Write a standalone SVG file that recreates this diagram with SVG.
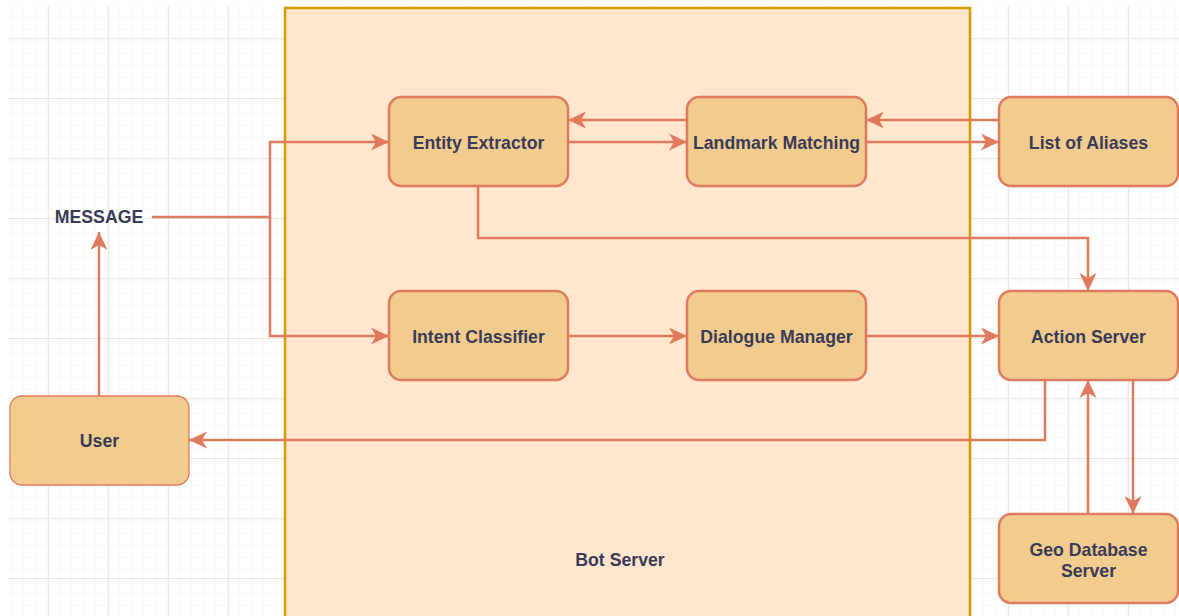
<svg xmlns="http://www.w3.org/2000/svg" width="1179" height="616" viewBox="0 0 1179 616">
<style>
.node rect{fill:#F2CC8F;stroke:#E07A5F;stroke-width:2.5}
.lbl{font-family:"Liberation Sans",Arial,sans-serif;font-weight:bold;font-size:17.7px;fill:#393C56;text-anchor:middle}
.conn path{fill:none;stroke:#E07A5F;stroke-width:2.5;marker-end:url(#arr)}
</style>
<defs>
<pattern id="minor" x="0" y="6" width="12" height="12" patternUnits="userSpaceOnUse">
<path d="M12,0 V12 M0,12 H12" fill="none" stroke="#F3F3EF" stroke-width="1"/>
</pattern>
<pattern id="major" x="-12" y="-22" width="60" height="60" patternUnits="userSpaceOnUse">
<path d="M0.5,0 V60 M0,0.5 H60" fill="none" stroke="#EAEAE2" stroke-width="1.5"/>
</pattern>
<marker id="arr" markerUnits="userSpaceOnUse" markerWidth="20" markerHeight="20" refX="18" refY="10" orient="auto">
<path d="M0,1.5 L18,10 L0,18.5 L5,10 z" fill="#E07A5F"/>
</marker>
</defs>
<rect width="1179" height="616" fill="#ffffff"/>
<rect x="8" y="6" width="1171" height="610" fill="url(#minor)"/>
<rect x="8" y="6" width="1171" height="610" fill="url(#major)"/>
<g id="bot-server">
<rect x="285" y="8" width="685" height="620" fill="#FFE6CC" stroke="#D79B00" stroke-width="2.5"/>
<text class="lbl" x="620" y="566">Bot Server</text>
</g>
<g id="message"><text class="lbl" x="99" y="223">MESSAGE</text></g>
<g class="conn" id="connectors">
<path d="M152,217 H270 V142 H389"/>
<path d="M270,217 V336 H389"/>
<path d="M99,396 V232"/>
<path d="M687,120 H568"/>
<path d="M568,142 H687"/>
<path d="M999,120 H866"/>
<path d="M866,142 H999"/>
<path d="M478,186 V238 H1088 V291"/>
<path d="M568,336 H687"/>
<path d="M866,336 H999"/>
<path d="M1045,380 V440 H189"/>
<path d="M1088,514 V380"/>
<path d="M1133,380 V514"/>
</g>
<g class="node" id="entity-extractor"><rect x="389" y="97" width="179" height="89" rx="12"/><text class="lbl" x="478.5" y="148.5">Entity Extractor</text></g>
<g class="node" id="landmark-matching"><rect x="687" y="97" width="179" height="89" rx="12"/><text class="lbl" x="776.5" y="148.5">Landmark Matching</text></g>
<g class="node" id="list-of-aliases"><rect x="999" y="97" width="179" height="89" rx="12"/><text class="lbl" x="1088.5" y="148.5">List of Aliases</text></g>
<g class="node" id="intent-classifier"><rect x="389" y="291" width="179" height="89" rx="12"/><text class="lbl" x="478.5" y="342.5">Intent Classifier</text></g>
<g class="node" id="dialogue-manager"><rect x="687" y="291" width="179" height="89" rx="12"/><text class="lbl" x="776.5" y="342.5">Dialogue Manager</text></g>
<g class="node" id="action-server"><rect x="999" y="291" width="179" height="89" rx="12"/><text class="lbl" x="1088.5" y="342.5">Action Server</text></g>
<g class="node" id="user"><rect x="10" y="396" width="179" height="89" rx="12" style="stroke-width:1.3"/><text class="lbl" x="99.5" y="446.5">User</text></g>
<g class="node" id="geo-database-server"><rect x="999" y="514" width="179" height="89" rx="12"/><text class="lbl" x="1088.5" y="556">Geo Database</text><text class="lbl" x="1088.5" y="577">Server</text></g>
</svg>
